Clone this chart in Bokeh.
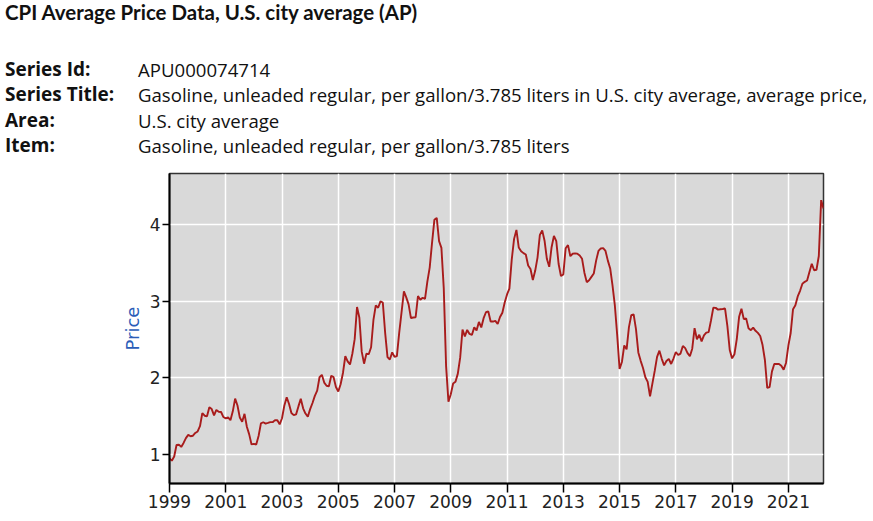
from bokeh.plotting import figure
from bokeh.layouts import column
from bokeh.models import Range1d, FixedTicker, Div
from bokeh.embed import file_html
from bokeh.resources import INLINE

# Monthly average price, gasoline unleaded regular ($ per gallon), Jan..Dec
price_1999 = [0.949, 0.919, 0.973, 1.124, 1.128, 1.099, 1.151, 1.213, 1.256, 1.238, 1.245, 1.281]
price_2000 = [1.301, 1.369, 1.541, 1.506, 1.498, 1.617, 1.593, 1.510, 1.582, 1.559, 1.555, 1.489]
price_2001 = [1.472, 1.484, 1.447, 1.564, 1.729, 1.640, 1.482, 1.427, 1.531, 1.362, 1.263, 1.131]
price_2002 = [1.139, 1.130, 1.241, 1.407, 1.421, 1.404, 1.412, 1.423, 1.422, 1.449, 1.448, 1.394]
price_2003 = [1.473, 1.641, 1.748, 1.659, 1.542, 1.514, 1.524, 1.628, 1.728, 1.603, 1.535, 1.494]
price_2004 = [1.592, 1.672, 1.766, 1.833, 2.009, 2.041, 1.939, 1.898, 1.891, 2.029, 2.010, 1.882]
price_2005 = [1.823, 1.918, 2.065, 2.283, 2.216, 2.176, 2.316, 2.506, 2.927, 2.785, 2.343, 2.186]
price_2006 = [2.315, 2.310, 2.401, 2.757, 2.947, 2.917, 2.999, 2.985, 2.589, 2.272, 2.241, 2.334]
price_2007 = [2.274, 2.285, 2.592, 2.860, 3.130, 3.052, 2.961, 2.782, 2.789, 2.793, 3.069, 3.020]
price_2008 = [3.047, 3.033, 3.258, 3.441, 3.764, 4.065, 4.090, 3.786, 3.698, 3.173, 2.151, 1.689]
price_2009 = [1.787, 1.928, 1.949, 2.056, 2.265, 2.631, 2.543, 2.627, 2.574, 2.561, 2.660, 2.621]
price_2010 = [2.731, 2.659, 2.780, 2.858, 2.868, 2.736, 2.736, 2.745, 2.704, 2.795, 2.852, 2.985]
price_2011 = [3.091, 3.167, 3.546, 3.816, 3.933, 3.702, 3.654, 3.630, 3.612, 3.468, 3.423, 3.278]
price_2012 = [3.399, 3.572, 3.868, 3.927, 3.792, 3.552, 3.451, 3.707, 3.856, 3.786, 3.488, 3.331]
price_2013 = [3.351, 3.693, 3.735, 3.590, 3.622, 3.626, 3.623, 3.600, 3.556, 3.375, 3.251, 3.276]
price_2014 = [3.320, 3.364, 3.532, 3.659, 3.691, 3.695, 3.659, 3.532, 3.430, 3.205, 2.943, 2.555]
price_2015 = [2.116, 2.208, 2.425, 2.373, 2.663, 2.820, 2.830, 2.637, 2.333, 2.223, 2.130, 2.009]
price_2016 = [1.949, 1.760, 1.925, 2.092, 2.275, 2.356, 2.249, 2.164, 2.221, 2.249, 2.182, 2.253]
price_2017 = [2.339, 2.299, 2.318, 2.418, 2.389, 2.324, 2.284, 2.382, 2.651, 2.505, 2.564, 2.477]
price_2018 = [2.555, 2.591, 2.598, 2.750, 2.918, 2.915, 2.892, 2.897, 2.900, 2.906, 2.676, 2.365]
price_2019 = [2.255, 2.309, 2.507, 2.798, 2.903, 2.768, 2.778, 2.648, 2.623, 2.657, 2.615, 2.588]
price_2020 = [2.548, 2.429, 2.234, 1.870, 1.880, 2.082, 2.183, 2.182, 2.183, 2.158, 2.108, 2.195]
price_2021 = [2.420, 2.587, 2.898, 2.948, 3.064, 3.138, 3.231, 3.255, 3.272, 3.384, 3.491, 3.406]
price_2022 = [3.413, 3.592, 4.322, 4.213]

yearly = [
    (1999, price_1999), (2000, price_2000), (2001, price_2001), (2002, price_2002),
    (2003, price_2003), (2004, price_2004), (2005, price_2005), (2006, price_2006),
    (2007, price_2007), (2008, price_2008), (2009, price_2009), (2010, price_2010),
    (2011, price_2011), (2012, price_2012), (2013, price_2013), (2014, price_2014),
    (2015, price_2015), (2016, price_2016), (2017, price_2017), (2018, price_2018),
    (2019, price_2019), (2020, price_2020), (2021, price_2021), (2022, price_2022),
]

x_tick_years = [1999, 2001, 2003, 2005, 2007, 2009, 2011, 2013, 2015, 2017, 2019, 2021]
y_tick_values = [1, 2, 3, 4]

page_title = "CPI Average Price Data, U.S. city average (AP)"
series_keys = ["Series Id:", "Series Title:", "Area:", "Item:"]
series_values = [
    "APU000074714",
    "Gasoline, unleaded regular, per gallon/3.785 liters in U.S. city average, average price,",
    "U.S. city average",
    "Gasoline, unleaded regular, per gallon/3.785 liters",
]

# monthly time axis in decimal years
t, price = [], []
for year, months in yearly:
    for m, v in enumerate(months):
        t.append(year + m / 12.0)
        price.append(v)

W = 873
HEAD_H = 172
PLOT_H = 521 - HEAD_H

# ---- header block (title and series description)
def span(text, left, top, font, size, weight, line_h):
    return (f'<div style="position:absolute;left:{left}px;top:{top}px;'
            f'font-family:\'{font}\';font-size:{size}px;font-weight:{weight};'
            f'line-height:{line_h}px;white-space:nowrap;color:#111111;">{text}</div>')

rows_html = [span(page_title, 5, 0, "Lato", 20.45, 700, 24)]
row_tops = [57, 82.3, 107.6, 133]
for key, val, top in zip(series_keys, series_values, row_tops):
    rows_html.append(span(key, 5, top, "Open Sans", 19, 700, 25))
    rows_html.append(span(val, 138, top, "Open Sans", 18.6, 400, 25))

head_html = (f'<div style="position:relative;width:{W}px;height:{HEAD_H}px;margin:0;padding:0;">'
             + "".join(rows_html) + "</div>")
head = Div(text=head_html, width=W, height=HEAD_H, margin=0)

# ---- price chart
p = figure(width=W, height=PLOT_H, output_backend="svg", toolbar_location=None,
           x_range=Range1d(1999.0, t[-1]), y_range=Range1d(0.621, 4.67),
           min_border_left=169, min_border_right=50,
           min_border_top=1, min_border_bottom=38, margin=0)

p.background_fill_color = "#d9d9d9"
p.border_fill_color = "white"
p.outline_line_color = "#333333"
p.outline_line_width = 1.5

p.line(t, price, line_color="#a81c1c", line_width=1.9)

p.xaxis.ticker = FixedTicker(ticks=x_tick_years)
p.yaxis.ticker = FixedTicker(ticks=y_tick_values)
p.xgrid.ticker = FixedTicker(ticks=x_tick_years)
p.ygrid.ticker = FixedTicker(ticks=y_tick_values)
for g in (p.xgrid, p.ygrid):
    g.grid_line_color = "white"
    g.grid_line_width = 1.5

for ax in (p.xaxis, p.yaxis):
    ax.axis_line_color = "black"
    ax.axis_line_width = 2
    ax.major_tick_line_color = "black"
    ax.major_tick_line_width = 1.5
    ax.major_tick_in = 0
    ax.minor_tick_line_color = None
    ax.major_label_text_font = "DejaVu Sans"
    ax.major_label_text_font_size = "17px"
    ax.major_label_text_color = "#222222"
p.xaxis.major_tick_out = 9
p.xaxis.major_label_standoff = 2
p.yaxis.major_tick_out = 7
p.yaxis.major_label_standoff = 2

p.yaxis.axis_label = "Price"
p.yaxis.axis_label_text_font = "DejaVu Sans"
p.yaxis.axis_label_text_font_style = "normal"
p.yaxis.axis_label_text_font_size = "18px"
p.yaxis.axis_label_text_color = "#2a5db8"
p.yaxis.axis_label_standoff = 4

layout = column(head, p, spacing=0)
open("out.html", "w").write(file_html(layout, INLINE))
